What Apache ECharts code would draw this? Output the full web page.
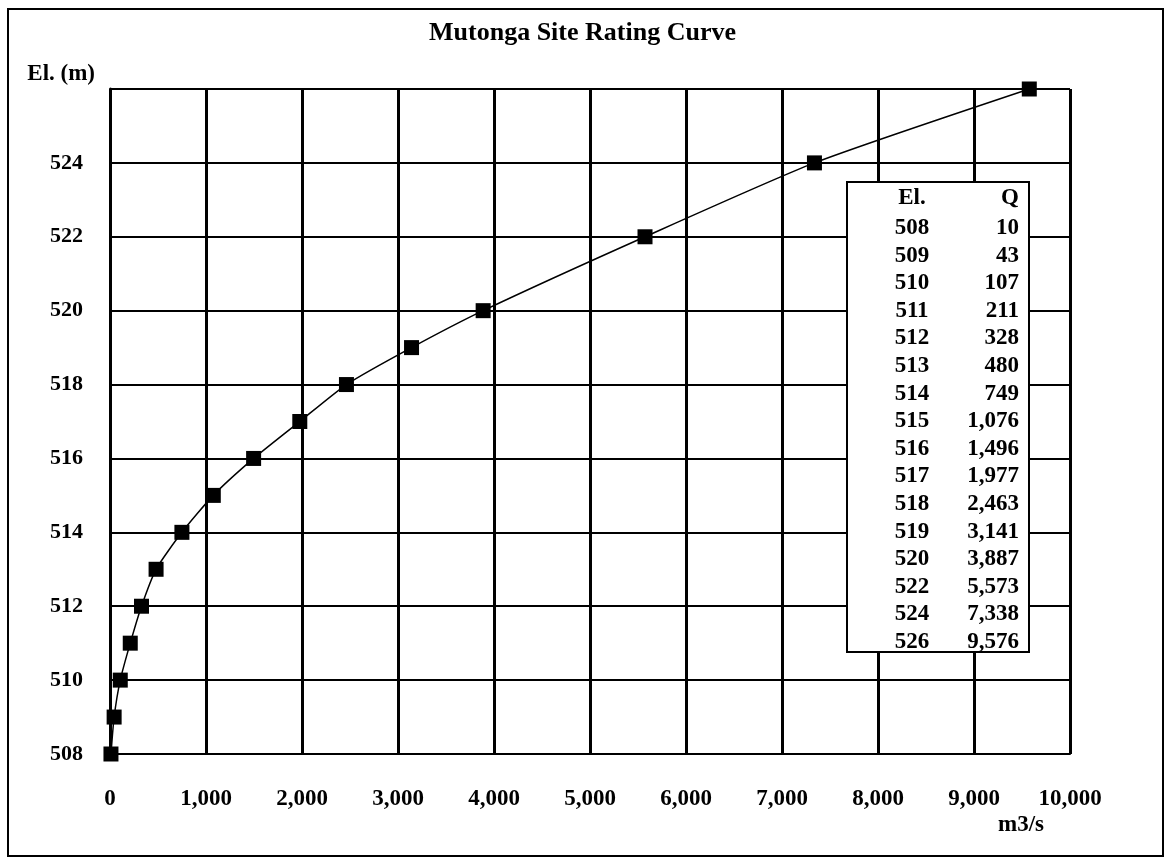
<!DOCTYPE html>
<html>
<head>
<meta charset="utf-8">
<title>Mutonga Site Rating Curve</title>
<script src="https://cdn.jsdelivr.net/npm/echarts@6/dist/echarts.min.js"></script>
<style>
    html, body { margin: 0; padding: 0; background: #fff; }
    #chart { width: 1165px; height: 862px; }
</style>
</head>
<body>
<div id="chart"></div>
<script>
// 水位 (m)
const elevations = [508, 509, 510, 511, 512, 513, 514, 515, 516, 517, 518, 519, 520, 522, 524, 526];
// 流量 (m3/s)
const discharges = [10, 43, 107, 211, 328, 480, 749, 1076, 1496, 1977, 2463, 3141, 3887, 5573, 7338, 9576];

const FONT = '"Liberation Serif", "DejaVu Serif", serif';
const fmt = v => Number(v).toLocaleString('en-US');

/**
 * 图内数据表 (El. / Q)
 */
function buildTable() {
    const left = 847, top = 182, right = 1029, bottom = 652;
    const colEl = 912, colQ = 1019;
    const headerY = 198, firstRowY = 228, rowStep = 27.6;
    const txt = (x, y, text, align) => ({
        type: 'text',
        x: x, y: y,
        z: 11,
        style: {
            text: text,
            fill: '#000',
            font: 'bold 23px ' + FONT,
            align: align,
            verticalAlign: 'middle'
        }
    });
    const items = [{
        type: 'rect',
        z: 10,
        shape: { x: left, y: top, width: right - left, height: bottom - top },
        style: { fill: '#fff', stroke: '#000', lineWidth: 2 }
    }];
    items.push(txt(colEl, headerY, 'El.', 'center'));
    items.push(txt(colQ, headerY, 'Q', 'right'));
    elevations.forEach((el, i) => {
        const y = firstRowY + i * rowStep;
        items.push(txt(colEl, y, String(el), 'center'));
        items.push(txt(colQ, y, fmt(discharges[i]), 'right'));
    });
    return items;
}

const chart = echarts.init(document.getElementById('chart'));
chart.setOption({
    animation: false,
    backgroundColor: '#fff',
    title: {
        text: 'Mutonga Site Rating Curve',
        left: 'center',
        top: 15,
        textStyle: { fontFamily: FONT, fontWeight: 'bold', fontSize: 26, color: '#000' }
    },
    grid: { left: 110, right: 95, top: 89, bottom: 108 },
    xAxis: {
        type: 'value',
        min: 0,
        max: 10000,
        interval: 1000,
        name: 'm3/s',
        nameLocation: 'end',
        nameGap: -49,
        nameTextStyle: {
            fontFamily: FONT, fontWeight: 'bold', fontSize: 23, color: '#000',
            align: 'center', verticalAlign: 'top', padding: [60, 0, 0, 0]
        },
        axisLine: { show: true, lineStyle: { color: '#000', width: 2 } },
        axisTick: { show: false },
        axisLabel: {
            margin: 34,
            formatter: fmt,
            fontFamily: FONT, fontWeight: 'bold', fontSize: 23, color: '#000'
        },
        splitLine: { show: true, lineStyle: { color: '#000', width: 3 } }
    },
    yAxis: {
        type: 'value',
        min: 508,
        max: 526,
        interval: 2,
        name: 'El. (m)',
        nameLocation: 'end',
        nameGap: 3,
        nameTextStyle: {
            fontFamily: FONT, fontWeight: 'bold', fontSize: 23, color: '#000',
            align: 'right', verticalAlign: 'bottom', padding: [0, 15, 0, 0]
        },
        axisLine: { show: true, lineStyle: { color: '#000', width: 3 } },
        axisTick: { show: false },
        axisLabel: {
            margin: 27,
            formatter: v => (v >= 526 ? '' : String(v)),
            fontFamily: FONT, fontWeight: 'bold', fontSize: 22, color: '#000'
        },
        splitLine: { show: true, lineStyle: { color: '#000', width: 2 } }
    },
    series: [{
        type: 'line',
        data: discharges.map((q, i) => [q, elevations[i]]),
        smooth: 0.2,
        symbol: 'rect',
        symbolSize: 15,
        itemStyle: { color: '#000' },
        lineStyle: { color: '#000', width: 1.5 },
        z: 5
    }],
    graphic: [{
        type: 'rect',
        shape: { x: 8, y: 9, width: 1155, height: 847 },
        style: { fill: 'none', stroke: '#000', lineWidth: 2 },
        silent: true
    }].concat(buildTable())
});
</script>
</body>
</html>
